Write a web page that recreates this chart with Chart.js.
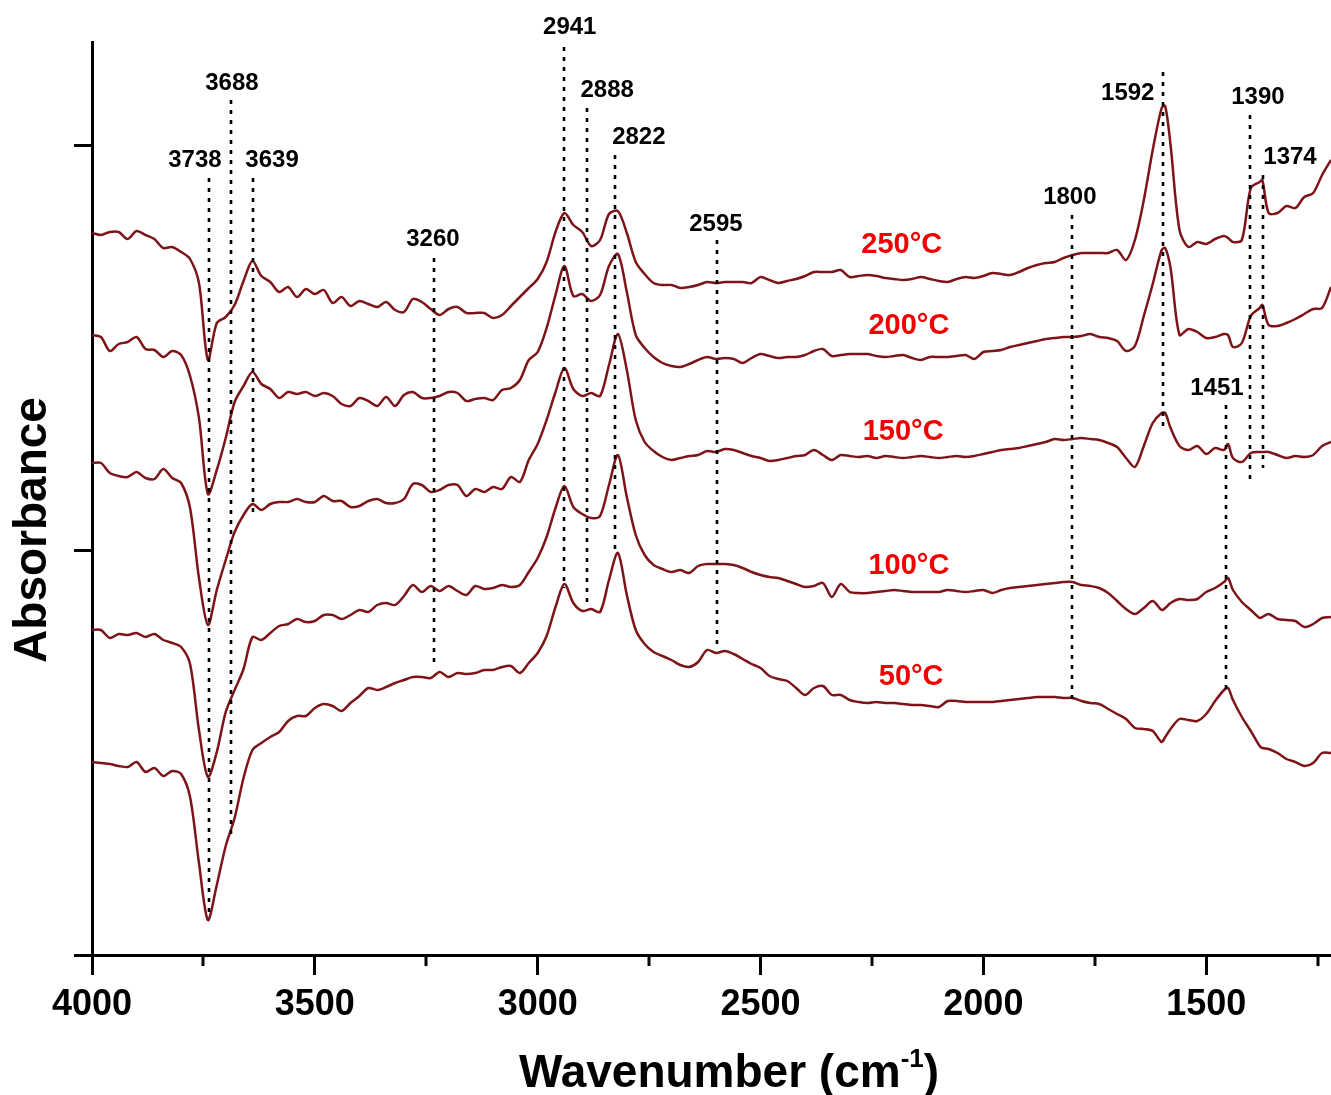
<!DOCTYPE html>
<html>
<head>
<meta charset="utf-8">
<title>IR spectra vs temperature</title>
<script src="https://cdn.jsdelivr.net/npm/chart.js@4.4.1/dist/chart.umd.min.js"></script>
<style>
  html, body { margin: 0; padding: 0; background: #fff; }
  #wrap { width: 1331px; height: 1095px; }
</style>
</head>
<body>
<div id="wrap"><canvas id="spectra"></canvas></div>
<script>
// wavenumber grid (cm-1)
const wavenumbers = [4000,3980,3960,3940,3920,3900,3880,3860,3840,3820,
  3800,3780,3760,3740,3720,3700,3680,3660,3640,3620,
  3600,3580,3560,3540,3520,3500,3480,3460,3440,3420,
  3400,3380,3360,3340,3320,3300,3280,3260,3240,3220,
  3200,3180,3160,3140,3120,3100,3080,3060,3040,3020,
  3000,2980,2960,2940,2920,2900,2880,2860,2840,2820,
  2800,2780,2760,2740,2720,2700,2680,2660,2640,2620,
  2600,2580,2560,2540,2520,2500,2480,2460,2440,2420,
  2400,2380,2360,2340,2320,2300,2280,2260,2240,2220,
  2200,2180,2160,2140,2120,2100,2080,2060,2040,2020,
  2000,1980,1960,1940,1920,1900,1880,1860,1840,1820,
  1800,1780,1760,1740,1720,1700,1680,1660,1640,1620,
  1600,1592,1580,1560,1540,1520,1500,1480,1460,1451,
  1440,1420,1400,1380,1374,1360,1340,1320,1300,1280,
  1260,1240,1220];

// absorbance (a.u., stacked offsets as plotted)
const abs250 = [722,720,723,723,716,724,720,716,707,708,
  703,696,672,595,632,638,650,674,694,679,
  673,663,668,658,666,661,665,652,658,649,
  654,651,648,653,645,643,656,653,646,640,
  646,648,642,642,642,637,640,649,658,667,
  676,693,723,742,730,723,709,715,741,744,
  722,693,681,672,670,670,667,668,670,673,
  672,673,673,673,672,678,675,672,674,676,
  679,683,683,683,685,678,679,680,679,677,
  676,675,676,678,676,674,673,676,678,677,
  679,682,681,680,683,687,690,692,693,697,
  700,702,702,702,702,705,695,715,755,805,
  847,849,810,725,708,713,711,716,719,717,
  713,715,767,773,775,742,742,749,747,758,
  762,780,795];

const abs200 = [620,618,604,611,613,618,606,605,598,604,
  600,579,537,461,485,517,553,569,583,571,
  566,557,563,561,563,559,562,559,551,549,
  557,554,549,558,549,560,563,557,557,559,
  563,562,554,556,557,555,565,567,575,595,
  603,627,660,689,659,661,654,660,689,701,
  663,620,607,598,592,589,588,591,595,598,
  596,597,596,592,597,601,599,597,598,598,
  600,604,606,599,600,601,601,601,599,598,
  599,600,597,595,598,598,598,599,600,596,
  603,604,605,608,610,612,614,616,617,618,
  618,619,621,618,617,614,604,609,639,671,
  705,707,687,620,626,623,617,618,621,620,
  608,612,639,647,650,630,629,632,636,641,
  646,647,668];

const abs150 = [492,492,482,479,478,483,477,476,486,477,
  472,447,377,330,365,395,423,440,451,445,
  451,453,453,456,453,453,459,454,454,448,
  449,454,456,452,452,456,471,470,463,465,
  470,470,459,466,463,468,466,478,473,495,
  511,535,563,587,566,559,562,559,590,621,
  585,535,513,504,498,495,497,499,500,504,
  503,506,505,502,499,497,494,495,497,499,
  500,505,500,495,500,499,498,499,497,499,
  498,497,498,499,498,497,498,499,498,499,
  501,503,505,506,507,509,511,513,516,515,
  516,517,516,515,512,508,497,488,509,532,
  542,542,527,509,505,509,501,507,505,511,
  497,493,502,503,503,503,500,497,499,498,
  500,509,513];

const abs100 = [325,325,317,321,320,322,318,321,315,312,
  308,291,225,178,203,243,265,286,318,315,
  322,329,331,336,333,334,340,340,336,340,
  345,343,350,352,350,359,370,363,369,364,
  369,364,360,369,366,367,370,368,370,383,
  397,418,447,469,448,441,437,439,470,500,
  458,420,400,390,386,383,385,382,389,391,
  391,391,390,387,383,380,378,377,374,371,
  368,369,372,358,371,363,362,362,363,364,
  365,364,363,363,363,363,365,364,363,364,
  365,362,365,367,368,369,370,371,372,373,
  373,370,369,367,362,354,346,341,347,354,
  345,347,352,356,355,356,363,367,373,377,
  365,353,345,337,338,341,336,335,334,328,
  331,337,338];

const abs50 = [193,192,191,189,188,193,183,187,179,184,
  181,158,92,35,70,109,137,177,205,212,
  218,223,234,239,239,247,251,249,244,252,
  259,267,265,268,272,275,278,278,277,283,
  278,282,281,282,285,285,288,289,282,292,
  302,319,348,371,352,344,346,343,375,402,
  360,325,311,303,299,295,290,288,293,305,
  302,304,301,296,291,287,279,276,274,267,
  260,267,269,260,260,255,253,252,253,252,
  252,251,250,250,249,248,254,254,253,253,
  253,253,254,255,256,257,258,258,258,257,
  257,254,252,251,246,241,236,227,226,224,
  213,218,226,236,235,234,241,254,265,267,
  255,238,224,209,207,206,202,196,193,189,
  192,202,202];

const tempLabels = ['250°C', '200°C', '150°C', '100°C', '50°C'];
const tempLabelX = [2183, 2167, 2180, 2167, 2162];
const tempLabelY = [710, 629, 523, 389, 278];

// peak markers: text, line position, line span, label anchor
const peakLabels = ['3738', '3688', '3639', '3260', '2941', '2888', '2822', '2595', '1800', '1592', '1451', '1390', '1374'];
const peakPos    = [3738, 3688, 3639, 3233, 2941, 2889, 2826, 2598, 1802, 1597, 1456, 1402, 1373];
const peakTop    = [777, 855, 777, 697, 908, 847, 800, 715, 740, 883, 550, 840, 780];
const peakBottom = [37, 117, 440, 290, 367, 348, 400, 310, 255, 525, 263, 475, 487];
const peakLabelX = [3769, 3686, 3596, 3235, 2928, 2844, 2773, 2600, 1806, 1676, 1476, 1384, 1312];
const peakLabelY = [795, 872, 795, 716, 928, 865, 818, 731, 758, 862, 567, 858, 798];

const xTicks = [4000, 3500, 3000, 2500, 2000, 1500];
const xMinorTicks = [3750, 3250, 2750, 2250, 1750, 1250];
const yTicks = [0, 405, 810];

const FONT = '"Liberation Sans", Arial, Helvetica, sans-serif';
const lineColor = '#7d1518';
const series = [abs250, abs200, abs150, abs100, abs50];

const datasets = series.map((vals, i) => ({
    label: tempLabels[i],
    data: wavenumbers.map((w, j) => ({ x: w, y: vals[j] })),
    borderColor: lineColor,
    borderWidth: 2.5,
    pointRadius: 0,
    fill: false,
    tension: 0.3
}));

// dotted peak lines, peak numbers and temperature tags
const annotatePlugin = {
    id: 'annotate',
    afterDatasetsDraw(chart) {
        const { ctx, scales: { x, y } } = chart;
        ctx.save();
        ctx.strokeStyle = '#000';
        ctx.lineWidth = 2.6;
        ctx.setLineDash([4, 6]);
        peakPos.forEach((w, i) => {
            const px = Math.round(x.getPixelForValue(w));
            ctx.beginPath();
            ctx.moveTo(px, y.getPixelForValue(peakTop[i]));
            ctx.lineTo(px, y.getPixelForValue(peakBottom[i]));
            ctx.stroke();
        });
        ctx.setLineDash([]);

        ctx.textAlign = 'center';
        ctx.textBaseline = 'middle';
        ctx.fillStyle = '#000';
        ctx.font = `bold 24px ${FONT}`;
        peakLabels.forEach((t, i) => {
            ctx.fillText(t, x.getPixelForValue(peakLabelX[i]), y.getPixelForValue(peakLabelY[i]));
        });

        ctx.fillStyle = '#f00000';
        ctx.font = `bold 29px ${FONT}`;
        tempLabels.forEach((t, i) => {
            ctx.fillText(t, x.getPixelForValue(tempLabelX[i]), y.getPixelForValue(tempLabelY[i]));
        });
        ctx.restore();
    },
    afterDraw(chart) {
        const { ctx, chartArea, scales: { x } } = chart;
        ctx.save();
        // minor ticks on the wavenumber axis
        ctx.strokeStyle = '#000';
        ctx.lineWidth = 3;
        xMinorTicks.forEach(v => {
            const px = Math.round(x.getPixelForValue(v));
            ctx.beginPath();
            ctx.moveTo(px, chartArea.bottom);
            ctx.lineTo(px, chartArea.bottom + 11);
            ctx.stroke();
        });

        // axis titles
        ctx.fillStyle = '#000';
        ctx.textBaseline = 'alphabetic';
        ctx.font = `bold 46px ${FONT}`;
        const main = 'Wavenumber (cm';
        const wMain = ctx.measureText(main).width;
        const wClose = ctx.measureText(')').width;
        ctx.font = `bold 26px ${FONT}`;
        const sup = '-1';
        const wSup = ctx.measureText(sup).width;
        let tx = 729 - (wMain + wSup + wClose) / 2;
        const base = 1087;
        ctx.font = `bold 46px ${FONT}`;
        ctx.textAlign = 'left';
        ctx.fillText(main, tx, base);
        tx += wMain;
        ctx.font = `bold 26px ${FONT}`;
        ctx.fillText(sup, tx, base - 20);
        tx += wSup;
        ctx.font = `bold 46px ${FONT}`;
        ctx.fillText(')', tx, base);

        ctx.translate(33, 530);
        ctx.rotate(-Math.PI / 2);
        ctx.textAlign = 'center';
        ctx.textBaseline = 'middle';
        ctx.fillText('Absorbance', 0, 0);
        ctx.restore();
    }
};

new Chart(document.getElementById('spectra'), {
    type: 'line',
    data: { datasets },
    options: {
        responsive: true,
        maintainAspectRatio: false,
        animation: false,
        layout: { padding: { top: 42, right: 0, bottom: 0, left: 0 } },
        plugins: {
            legend: { display: false },
            tooltip: { enabled: false }
        },
        scales: {
            x: {
                type: 'linear',
                reverse: true,
                min: 1220,
                max: 4000,
                afterBuildTicks: s => { s.ticks = xTicks.map(v => ({ value: v })); },
                afterFit: s => { s.height = 140; },
                ticks: {
                    color: '#000',
                    font: { family: FONT, size: 36, weight: 'bold' },
                    padding: 8,
                    autoSkip: false,
                    maxRotation: 0,
                    callback: v => String(v)
                },
                grid: { drawOnChartArea: false, drawTicks: true, tickLength: 20, tickWidth: 3, tickColor: '#000' },
                border: { color: '#000', width: 3 }
            },
            y: {
                type: 'linear',
                min: 0,
                max: 913,
                afterBuildTicks: s => { s.ticks = yTicks.map(v => ({ value: v })); },
                afterFit: s => { s.width = 92; },
                ticks: { callback: () => '' },
                grid: { drawOnChartArea: false, drawTicks: true, tickLength: 18, tickWidth: 3, tickColor: '#000' },
                border: { color: '#000', width: 3 }
            }
        }
    },
    plugins: [annotatePlugin]
});
</script>
</body>
</html>
